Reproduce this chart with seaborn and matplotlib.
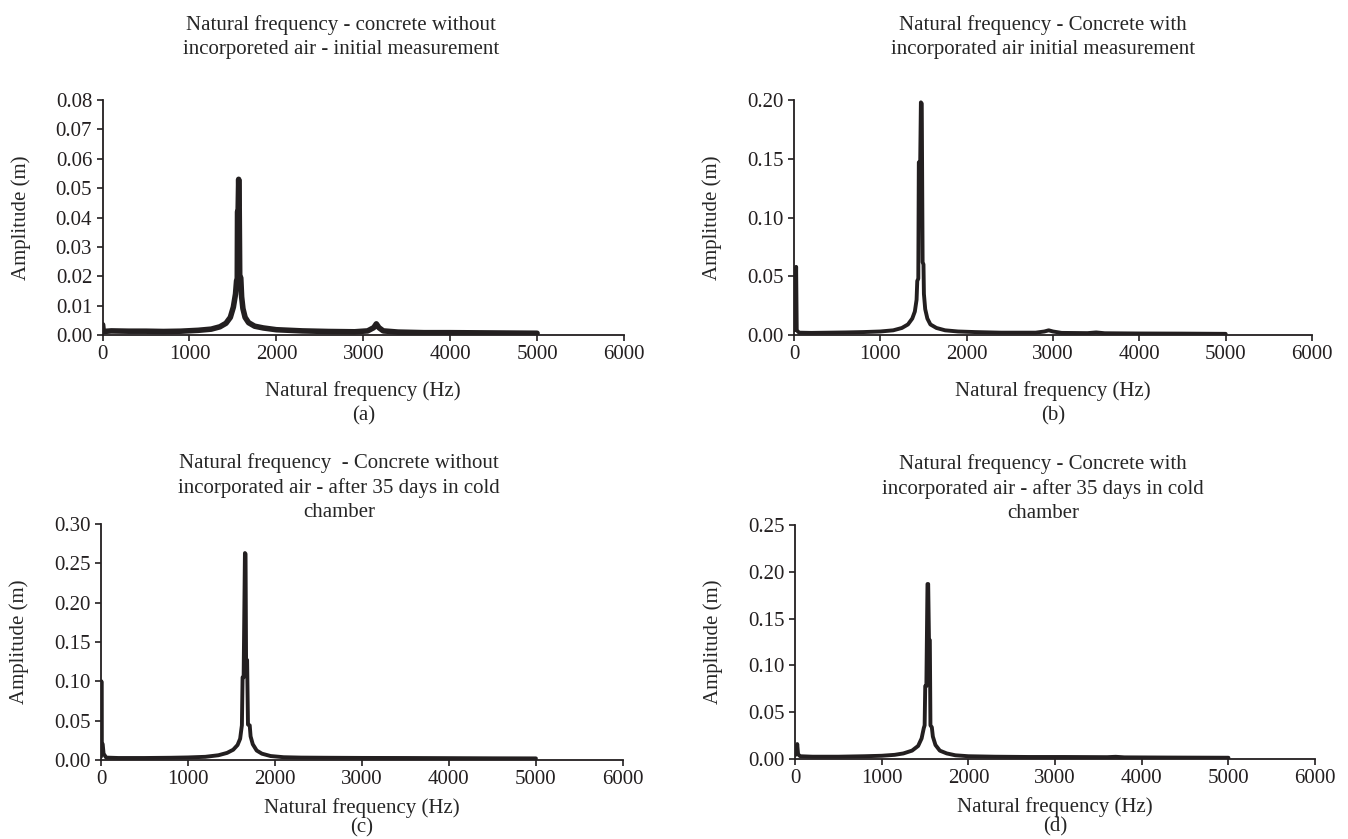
import matplotlib
matplotlib.use("Agg")
import matplotlib.pyplot as plt
import seaborn as sns
import pandas as pd
from matplotlib.ticker import FormatStrFormatter

# =========================
# DADES (llegides del gràfic)
# =========================
freq_a = [0, 8, 100, 300, 500, 700, 900, 1100, 1250, 1350, 1420, 1470, 1505, 1530,
          1542, 1550, 1553, 1560, 1566, 1572, 1578, 1590, 1600, 1615, 1640, 1680,
          1750, 1850, 2000, 2300, 2600, 2900, 3050, 3120, 3150, 3180, 3230, 3400,
          3700, 4000, 4500, 5000]
amp_a = [0.0035, 0.0012, 0.0014, 0.0013, 0.0013, 0.0012, 0.0013, 0.0016, 0.0020,
         0.0028, 0.0040, 0.0060, 0.0095, 0.0140, 0.0185, 0.0190, 0.0420, 0.0420,
         0.0530, 0.0440, 0.0200, 0.0195, 0.0130, 0.0090, 0.0060, 0.0042, 0.0030,
         0.0024, 0.0018, 0.0014, 0.0012, 0.0011, 0.0014, 0.0025, 0.0038, 0.0025,
         0.0014, 0.0010, 0.0008, 0.0008, 0.0007, 0.0006]

freq_b = [0, 15, 25, 32, 60, 200, 400, 600, 800, 1000, 1150, 1250, 1320, 1370, 1400,
          1420, 1428, 1440, 1446, 1462, 1470, 1480, 1490, 1500, 1505, 1520, 1545,
          1580, 1650, 1750, 1900, 2100, 2400, 2800, 2900, 2950, 3000, 3100, 3400,
          3500, 3600, 4000, 4500, 5000]
amp_b = [0.004, 0.006, 0.058, 0.004, 0.002, 0.0018, 0.002, 0.0022, 0.0025, 0.003,
         0.004, 0.006, 0.009, 0.014, 0.020, 0.030, 0.046, 0.048, 0.147, 0.147,
         0.198, 0.197, 0.062, 0.060, 0.035, 0.022, 0.014, 0.009, 0.006, 0.004,
         0.003, 0.0025, 0.002, 0.002, 0.003, 0.004, 0.003, 0.0018, 0.0016, 0.0022,
         0.0015, 0.0013, 0.0012, 0.0010]

freq_c = [0, 5, 10, 20, 30, 60, 200, 500, 800, 1000, 1200, 1350, 1450, 1520, 1570,
          1600, 1615, 1620, 1628, 1640, 1655, 1662, 1668, 1680, 1690, 1710, 1720,
          1745, 1790, 1850, 1950, 2100, 2300, 2600, 3000, 3500, 4000, 4500, 5000]
amp_c = [0.004, 0.100, 0.022, 0.020, 0.008, 0.003, 0.0025, 0.0025, 0.0028, 0.0032,
         0.004, 0.006, 0.009, 0.013, 0.019, 0.027, 0.040, 0.044, 0.105, 0.105,
         0.263, 0.262, 0.128, 0.127, 0.045, 0.044, 0.030, 0.020, 0.012, 0.008,
         0.005, 0.0035, 0.003, 0.0028, 0.0026, 0.0025, 0.0023, 0.0021, 0.002]

freq_d = [0, 15, 25, 35, 60, 200, 500, 800, 1000, 1150, 1250, 1350, 1420, 1460,
          1485, 1495, 1502, 1515, 1528, 1536, 1545, 1555, 1562, 1578, 1590, 1620,
          1670, 1750, 1850, 2000, 2300, 2700, 3100, 3600, 3700, 3800, 4300, 5000]
amp_d = [0.004, 0.006, 0.016, 0.005, 0.003, 0.0025, 0.0025, 0.003, 0.0035, 0.0045,
         0.006, 0.009, 0.014, 0.022, 0.033, 0.036, 0.078, 0.078, 0.187, 0.187,
         0.128, 0.127, 0.036, 0.034, 0.024, 0.015, 0.009, 0.006, 0.004, 0.003,
         0.0025, 0.0022, 0.0022, 0.002, 0.0024, 0.0018, 0.0016, 0.0014]

titols = [
    "Natural frequency - concrete without\nincorporeted air - initial measurement",
    "Natural frequency - Concrete with\nincorporated air initial measurement",
    "Natural frequency  - Concrete without\nincorporated air - after 35 days in cold\nchamber",
    "Natural frequency - Concrete with\nincorporated air - after 35 days in cold\nchamber",
]
lletres = ["(a)", "(b)", "(c)", "(d)"]
ymax = [0.08, 0.20, 0.30, 0.25]
ystep = [0.01, 0.05, 0.05, 0.05]
xticks = [0, 1000, 2000, 3000, 4000, 5000, 6000]

series = [(freq_a, amp_a), (freq_b, amp_b), (freq_c, amp_c), (freq_d, amp_d)]

# =========================
# ESTIL
# =========================
sns.set_style("ticks")
plt.rcParams['font.family'] = ['Liberation Serif', 'DejaVu Serif']
plt.rcParams['font.size'] = 15
plt.rcParams['axes.linewidth'] = 1.3
plt.rcParams['axes.edgecolor'] = '#231f20'

fig = plt.figure(figsize=(13.48, 8.39), dpi=100)

# posicions dels eixos [left, bottom, width, height]
posicions = [
    [0.0761, 0.6007, 0.3868, 0.2801],
    [0.5890, 0.6007, 0.3843, 0.2801],
    [0.0749, 0.0942, 0.3872, 0.2813],
    [0.5898, 0.0953, 0.3858, 0.2789],
]
titol_x = [0.457, 0.48, 0.456, 0.477]
titol_pad = [33, 33, 5, 5]
label_pad = [12, 12, 6, 6]
label_ls = [1.35, 1.35, 1.05, 1.05]
gruix = [4.0, 2.8, 2.8, 2.8]

for i, (fr, am) in enumerate(series):
    ax = fig.add_axes(posicions[i])
    df = pd.DataFrame({'freq': fr, 'amp': am})
    sns.lineplot(data=df, x='freq', y='amp', ax=ax, color='#231f20',
                 linewidth=gruix[i], estimator=None, sort=False)
    ax.set_xlim(0, 6000)
    ax.set_ylim(0, ymax[i])
    ax.set_xticks(xticks)
    n = int(round(ymax[i] / ystep[i]))
    ax.set_yticks([k * ystep[i] for k in range(n + 1)])
    ax.yaxis.set_major_formatter(FormatStrFormatter('%.2f'))
    ax.tick_params(axis='both', labelsize=15, length=4, width=1.2,
                   colors='#231f20')
    ax.set_title(titols[i], fontsize=15, x=titol_x[i], pad=titol_pad[i],
                 linespacing=1.35)
    ax.set_xlabel("Natural frequency (Hz)\n" + lletres[i], fontsize=15,
                  labelpad=label_pad[i], linespacing=label_ls[i])
    ax.set_ylabel("Amplitude (m)", fontsize=15, labelpad=18)
    sns.despine(ax=ax)

fig.savefig("out.png", dpi=100)
